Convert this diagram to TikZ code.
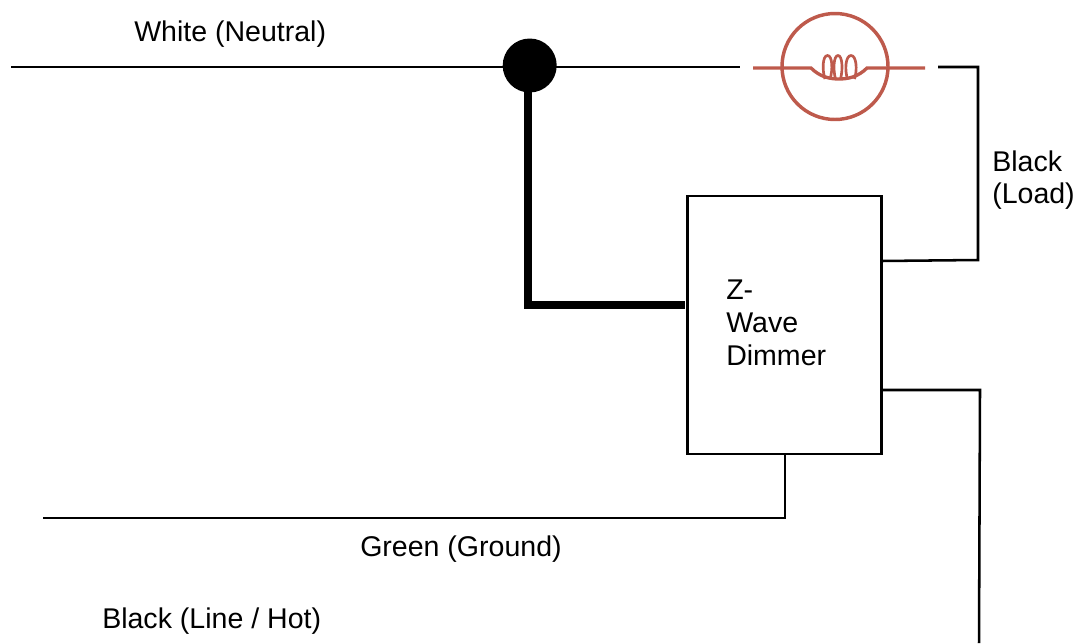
\documentclass[tikz,border=0pt]{standalone}
\usepackage{fontspec}
\setmainfont{Liberation Sans}
\definecolor{bulbred}{HTML}{BE5A4C}
\tikzset{
  x=0.75pt,y=-0.75pt,
  wire/.style={draw=black,line width=1.9pt},
  thickwire/.style={draw=black,line width=5.3pt},
  bulbline/.style={draw=bulbred,line width=2.5pt},
  coil/.style={draw=bulbred,line width=2pt},
  lbl/.style={inner sep=0pt,anchor=base west,align=left,font=\fontsize{21.4pt}{24.75pt}\selectfont},
}
\begin{document}
\begin{tikzpicture}
\useasboundingbox (0,0) rectangle (1077,643);
% box
\node[draw=black,line width=1.9pt,minimum width=194*0.75pt,minimum height=258*0.75pt,inner sep=0pt,outer sep=0pt] (dimmer) at (784.3,325) {};
\node[lbl,text width=90*0.75pt] (dimtxt) at (726,299) {Z-\\Wave\\Dimmer};
% coordinates
\coordinate (neutralstart) at (11,67);
\coordinate (bulbleft) at (740,67);
\coordinate (bulbright) at (938,67);
\coordinate (loadcorner) at (978,67);
\coordinate (loadlow) at (978,260);
\coordinate (loadbox) at (881,261);
\coordinate (thicktop) at (528,85);
\coordinate (thickcorner) at (528,305);
\coordinate (thickbox) at (685,305);
\coordinate (gndtop) at (785,454);
\coordinate (gndcorner) at (785,518);
\coordinate (gndend) at (43,518);
\coordinate (hotbox) at (881,390);
\coordinate (hotcorner) at (980,390);
\coordinate (hotend) at (979,643);
% wires
\draw[wire] (neutralstart) -- (bulbleft);
\draw[wire] (bulbright) -- (loadcorner) -- (loadlow) -- (loadbox);
\draw[thickwire,line join=miter] (thicktop) -- (thickcorner) -- (thickbox);
\draw[wire] (gndtop) -- (gndcorner) -- (gndend);
\draw[wire] (hotbox) -- (hotcorner) -- (hotend);
% junction and bulb
\node[circle,fill=black,minimum size=54*0.75pt,inner sep=0pt,outer sep=0pt] (junction) at (529.7,65.5) {};
\node[circle,draw=bulbred,line width=2.6pt,minimum size=106*0.75pt,inner sep=0pt,outer sep=0pt] (bulb) at (835,66.5) {};
% filament
\draw[bulbline] (753,68) -- (811,68) .. controls (820,77) and (830,79) .. (839,79) .. controls (848,79) and (858,77) .. (867,68) -- (925,68);
\draw[coil] (825,79) .. controls (822,70) and (822.5,55.5) .. (827.5,55.5) .. controls (832.5,55.5) and (833,70) .. (830,79);
\draw[coil] (835.5,79) .. controls (833,70) and (833.5,55.5) .. (838,55.5) .. controls (842.5,55.5) and (843,70) .. (840.5,79);
\draw[coil] (847.5,79) .. controls (844.5,70) and (845.5,55.5) .. (851,55.5) .. controls (856.5,55.5) and (857.5,70) .. (854.5,79);
% labels
\node[lbl] (t1) at (134,41) {White (Neutral)};
\node[lbl] (t2) at (992,171) {Black};
\node[lbl] (t3) at (992,203) {(Load)};
\node[lbl] (t4) at (360,556) {Green (Ground)};
\node[lbl] (t5) at (102,628) {Black (Line / Hot)};
\end{tikzpicture}
\end{document}
